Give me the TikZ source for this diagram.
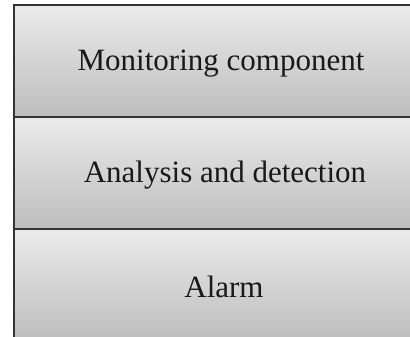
\documentclass[tikz,border=0pt]{standalone}
\usepackage{fontspec}
\setmainfont{Liberation Serif}
\begin{document}
\begin{tikzpicture}[x=1pt,y=1pt,
  layerbox/.style={draw=black!80, line width=1.5pt, top color=black!8, bottom color=black!26, minimum width=418pt, minimum height=112pt, inner sep=0pt, outer sep=0pt},
  layertext/.style={font=\fontsize{31}{36}\selectfont, text=black!90}]
\useasboundingbox (0,0) rectangle (410,337);
\clip (0,0) rectangle (410,337);
\node[layerbox, anchor=north west] (mon) at (14,332) {};
\node[layerbox, anchor=north west] (ana) at (14,220) {};
\node[layerbox, anchor=north west] (ala) at (14,108) {};
\node[layertext] (tmon) at (221,273) {Monitoring component};
\node[layertext] (tana) at (225,162) {Analysis and detection};
\node[layertext] (tala) at (224,50) {Alarm};
\end{tikzpicture}
\end{document}
